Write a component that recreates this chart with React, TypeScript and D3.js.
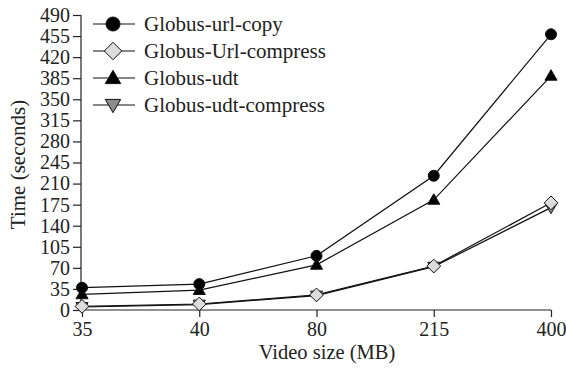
import { useEffect, useRef } from 'react'
import * as d3 from 'd3'

const W = 566
const H = 371
const M = { left: 81, right: 15, top: 15, bottom: 61 }

const SIZES = ['35', '40', '80', '215', '400']
const Y_TICKS = [0, 35, 70, 105, 140, 175, 210, 245, 280, 315, 350, 385, 420, 455, 490]

const URL_COPY = [37, 43, 90, 223, 458]
const URL_COMPRESS = [6, 10, 25, 73, 178]
const UDT = [26, 33, 75, 183, 389]
const UDT_COMPRESS = [5, 9, 24, 72, 170]

const SERIES = [
  { name: 'Globus-url-copy', values: URL_COPY, shape: 'circle', fill: '#000' },
  { name: 'Globus-Url-compress', values: URL_COMPRESS, shape: 'diamond', fill: '#dcdcdc' },
  { name: 'Globus-udt', values: UDT, shape: 'triangle', fill: '#000' },
  { name: 'Globus-udt-compress', values: UDT_COMPRESS, shape: 'down', fill: '#8c8c8c' },
]

const FONT = '"Liberation Serif", "Times New Roman", serif'

function markerPath(shape: string, s: number) {
  if (shape === 'circle') return d3.symbol(d3.symbolCircle, Math.PI * s * s)()
  if (shape === 'diamond') return `M0,${-s * 1.25}L${s * 1.25},0L0,${s * 1.25}L${-s * 1.25},0Z`
  if (shape === 'triangle') return `M0,${-s * 1.1}L${s * 1.1},${s * 0.8}L${-s * 1.1},${s * 0.8}Z`
  return `M0,${s * 1.1}L${s * 1.1},${-s * 0.8}L${-s * 1.1},${-s * 0.8}Z`
}

export default function App() {
  const ref = useRef<SVGSVGElement>(null)

  useEffect(() => {
    const svg = d3.select(ref.current)
    svg.selectAll('*').remove()

    const x = d3.scalePoint().domain(SIZES).range([M.left + 1, W - M.right])
    const y = d3.scaleLinear().domain([0, 490]).range([H - M.bottom, M.top])

    // axes
    const yAxis = svg.append('g')
      .attr('transform', `translate(${M.left},0)`)
      .call(d3.axisLeft(y).tickValues(Y_TICKS).tickSize(8).tickPadding(3).tickSizeOuter(0))
    const xAxis = svg.append('g')
      .attr('transform', `translate(0,${H - M.bottom})`)
      .call(d3.axisBottom(x).tickSize(7).tickPadding(5).tickSizeOuter(0))
    ;[yAxis, xAxis].forEach((g) => {
      g.selectAll('path, line').attr('stroke', '#222').attr('stroke-width', 1.2)
      g.selectAll('text').attr('font-family', FONT).attr('font-size', 20).attr('fill', '#222')
    })
    xAxis.select('.domain').attr('d', `M${M.left},0H${W - M.right}`)
    yAxis.select('.domain').attr('d', `M0,${H - M.bottom}V${M.top}`)

    svg.append('text')
      .attr('transform', `translate(25,${(M.top + H - M.bottom) / 2 + 2}) rotate(-90)`)
      .attr('text-anchor', 'middle')
      .attr('font-family', FONT).attr('font-size', 21).attr('fill', '#222')
      .text('Time (seconds)')
    svg.append('text')
      .attr('x', 327).attr('y', 359)
      .attr('text-anchor', 'middle')
      .attr('font-family', FONT).attr('font-size', 20.5).attr('fill', '#222')
      .text('Video size (MB)')

    const line = d3.line<number>()
      .x((_, i) => x(SIZES[i]) as number)
      .y((d) => y(d))

    // lines first, then markers on top
    SERIES.forEach((s) => {
      svg.append('path')
        .attr('d', line(s.values))
        .attr('fill', 'none').attr('stroke', '#111').attr('stroke-width', 1.2)
    })
    const order = [3, 2, 0, 1]
    order.forEach((k) => {
      const s = SERIES[k]
      s.values.forEach((v, i) => {
        svg.append('path')
          .attr('d', markerPath(s.shape, 5.5))
          .attr('transform', `translate(${x(SIZES[i])},${y(v)})`)
          .attr('fill', s.fill).attr('stroke', '#111').attr('stroke-width', 1)
      })
    })

    // legend
    const LEG_Y = [24, 51, 78, 105]
    SERIES.forEach((s, i) => {
      const g = svg.append('g').attr('transform', `translate(0,${LEG_Y[i]})`)
      g.append('line').attr('x1', 93).attr('x2', 135).attr('y1', 0).attr('y2', 0)
        .attr('stroke', '#111').attr('stroke-width', 1.2)
      g.append('path')
        .attr('d', markerPath(s.shape, 7))
        .attr('transform', 'translate(113,0)')
        .attr('fill', s.fill).attr('stroke', '#111').attr('stroke-width', 1)
      g.append('text')
        .attr('x', 144).attr('y', 0).attr('dy', '0.33em')
        .attr('font-family', FONT).attr('font-size', 21).attr('fill', '#222')
        .text(s.name)
    })
  }, [])

  return (
    <svg ref={ref} width={W} height={H}
      style={{ position: 'absolute', left: 0, top: 0, background: '#fff' }} />
  )
}
